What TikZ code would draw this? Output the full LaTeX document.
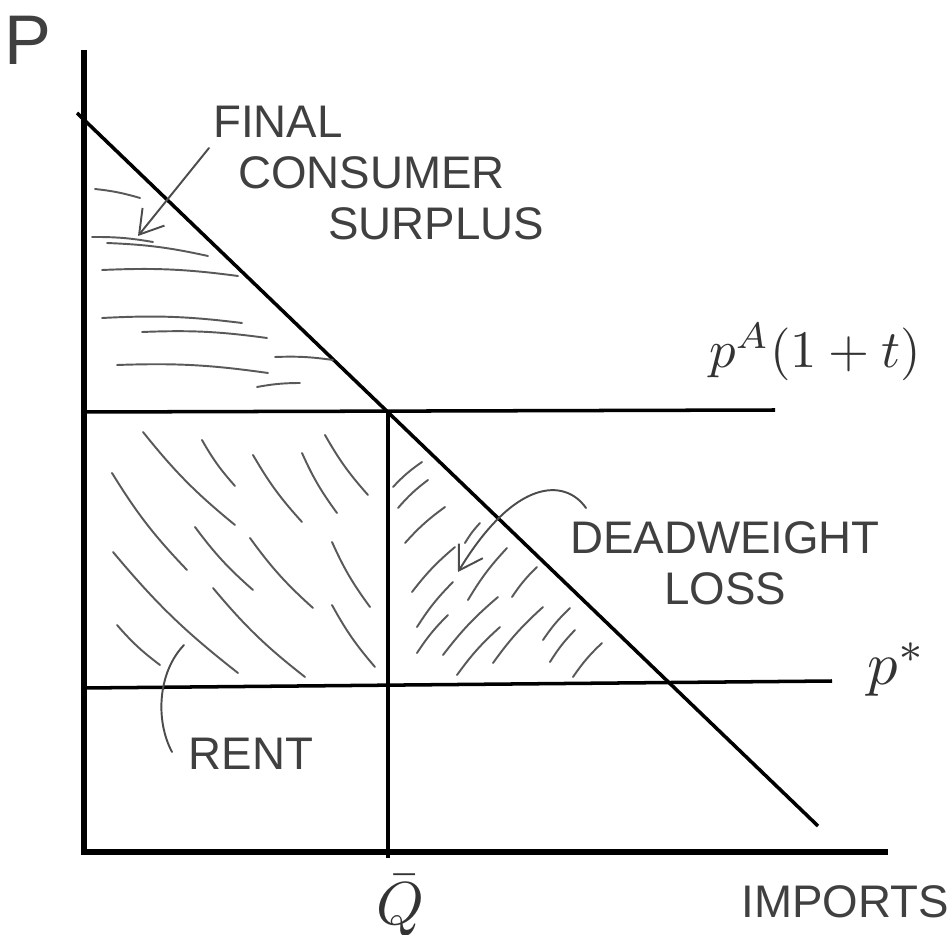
\documentclass[tikz,border=0pt]{standalone}
\usepackage{fontspec}
\setsansfont{Liberation Sans}
\usetikzlibrary{arrows.meta}
\tikzset{
  axis/.style={line width=3.2pt},
  curve/.style={line width=2pt},
  hatch/.style={line width=1.1pt, draw=black!65, line cap=round},
  leader/.style={line width=1.1pt, draw=black!70, line cap=round},
  barb/.style={-{Straight Barb[length=13pt,width=16pt]}},
  hand/.style={font=\sffamily\fontsize{26}{29}\selectfont, text=black!75, inner sep=0pt},
  sym/.style={scale=3, text=black!80, inner sep=0pt},
}

\begin{document}
\begin{tikzpicture}[x=0.02cm, y=-0.02cm]
\useasboundingbox (0,0) rectangle (950,935);

% axes
\coordinate (O) at (84,852);
\coordinate (ytop) at (84,50);
\coordinate (xend) at (888,852);
\draw[axis] (ytop) -- (O) -- (xend);

% demand, price lines and quota
\coordinate (dA) at (77,113);
\coordinate (dB) at (818,826);
\coordinate (tL) at (84,412);
\coordinate (tR) at (775,410);
\coordinate (sL) at (84,688);
\coordinate (sR) at (832,681);
\coordinate (qT) at (388,411);
\coordinate (qB) at (388,858);
\draw[curve] (dA) -- (dB);
\draw[curve] (tL) -- (tR);
\draw[curve] (sL) -- (sR);
\draw[curve] (qT) -- (qB);

% hatching
\foreach \x/\y/\u/\v in {95/189/140/198, 92/237/153/242, 107/243/208/256,
    102/270/238/276, 102/318/242/323, 142/332/267/338, 117/365/268/373,
    275/357/333/360, 257/387/300/383}
  \draw[hatch] (\x,\y) to[bend left=5] (\u,\v);
\foreach \x/\y/\u/\v in {143/432/235/525, 202/440/235/486, 253/455/302/522,
    302/453/337/513, 325/435/368/495, 112/473/187/570, 195/527/253/590,
    250/538/313/608, 332/542/370/607, 113/552/238/673, 213/588/305/677,
    332/605/375/667, 117/625/160/665}
  \draw[hatch] (\x,\y) to[bend right=6] (\u,\v);
\foreach \x/\y/\u/\v in {393/487/422/462, 398/508/428/480, 405/543/445/507,
    412/592/455/547, 417/627/453/582, 417/653/448/615, 443/655/498/597,
    457/675/500/627, 468/600/507/548, 465/543/480/523, 493/663/543/607,
    512/597/537/567, 543/640/570/608, 550/662/575/630, 573/677/602/643}
  \draw[hatch] (\x,\y) to[bend left=6] (\u,\v);

% labels
\node[hand, font=\sffamily\fontsize{40}{44}\selectfont] (pAxis) at (28,40) {P};
\node[hand, anchor=north west, align=left] (csLabel) at (213,106)
  {FINAL\\\hspace*{0.5cm}CONSUMER\\\hspace*{2.3cm}SURPLUS};
\node[sym] (tariff) at (815,352) {$p^{A}(1+t)$};
\node[hand, align=center] (dwlLabel) at (725,563) {DEADWEIGHT\\LOSS};
\node[sym, scale=1.15] (world) at (897,670) {$p^{*}$};
\node[hand] (rentLabel) at (251,754) {RENT};
\node[sym, scale=1.15] (quota) at (400,906) {$\bar{Q}$};
\node[hand] (xLabel) at (845,902) {IMPORTS};

% leaders
\coordinate (csFrom) at (209,148);
\coordinate (csTip) at (138,236);
\draw[leader, barb] (csFrom) -- (csTip);
\coordinate (dwlFrom) at (586,508);
\coordinate (dwlTip) at (458,572);
\draw[leader, barb] (dwlFrom) .. controls (565,478) and (515,478) .. (dwlTip);
\coordinate (rentFrom) at (172,752);
\coordinate (rentTip) at (184,645);
\draw[leader] (rentFrom) .. controls (155,720) and (158,672) .. (rentTip);
\end{tikzpicture}
\end{document}
